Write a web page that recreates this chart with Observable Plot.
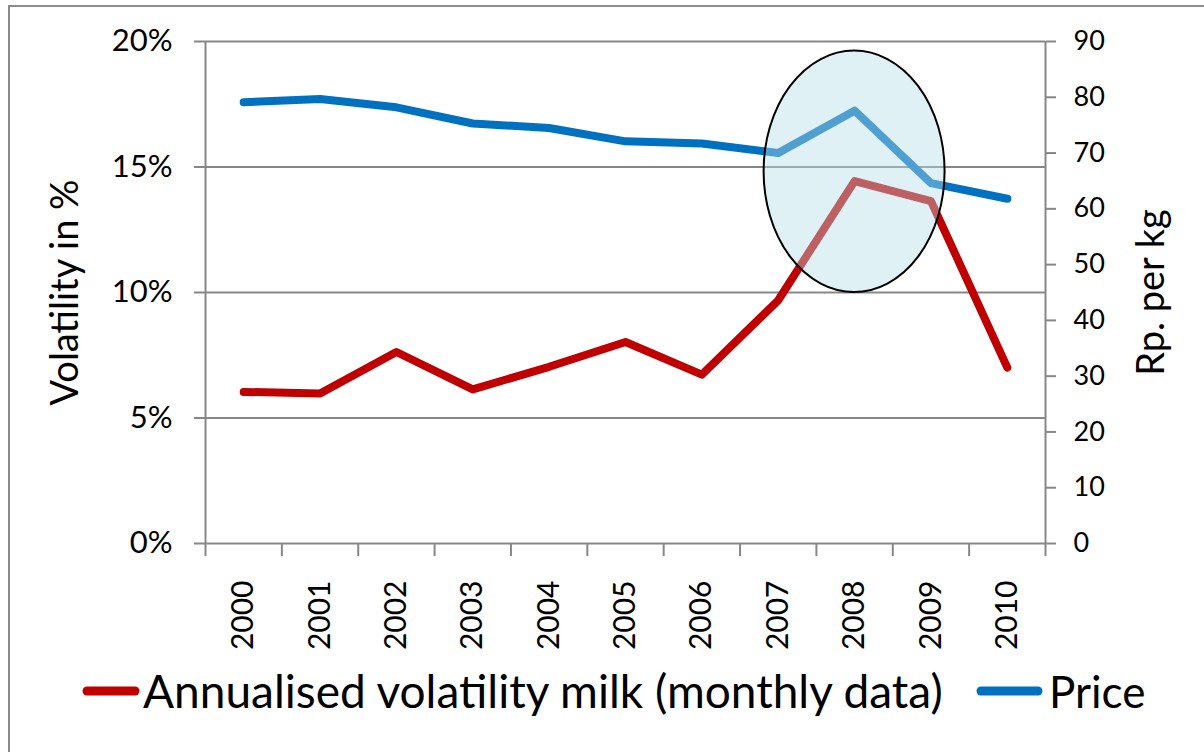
<!DOCTYPE html>
<html><head><meta charset="utf-8">
<script src="https://cdn.jsdelivr.net/npm/d3@7"></script>
<script src="https://cdn.jsdelivr.net/npm/@observablehq/plot@0.6"></script>
<style>
html,body{margin:0;padding:0;background:#fff;overflow:hidden;width:1204px;height:752px;}
#wrap{position:relative;width:1204px;height:752px;overflow:hidden;font-family:Lato,sans-serif;}
#frame{position:absolute;left:8px;top:5px;width:1400px;height:1000px;border:2px solid #8c8c8c;box-sizing:border-box;}
#chart{position:absolute;left:0;top:0;}
#legend{position:absolute;left:0;top:620px;}
</style></head><body>
<div id="wrap"><div id="frame"></div><div id="chart"></div><div id="legend"></div></div>
<script>
// ---- data ----
const years = [2000, 2001, 2002, 2003, 2004, 2005, 2006, 2007, 2008, 2009, 2010];
const volatility = [6.04, 5.98, 7.63, 6.14, 7.04, 8.03, 6.73, 9.69, 14.44, 13.64, 7.01]; // %
const price = [79.1, 79.7, 78.2, 75.3, 74.5, 72.1, 71.7, 70.0, 77.6, 64.6, 61.8];        // Rp. per kg
const leftTicks = [0, 5, 10, 15, 20];
const rightTicks = [0, 10, 20, 30, 40, 50, 60, 70, 80, 90];
const seriesNames = ["Annualised volatility milk (monthly data)", "Price"];
const seriesColors = ["#c00000", "#0070c0"];
const axisTitles = ["Volatility in %", "Rp. per kg"];
const volMax = 20, priceMax = 90;
// highlight ellipse (data units: center year / volatility %, radii in years / %)
const highlight = [{year: 2008, vol: 14.81, rxYears: 1.185, ryVol: 4.81}];

const toVol = p => p * volMax / priceMax;
const rows = years.map((y, i) => ({year: y, vol: volatility[i], priceScaled: toVol(price[i])}));
const boundaries = d3.range(years.length + 1).map(i => years[0] - 0.5 + i);
const FONT = 'Lato, "Open Sans", sans-serif';
const GRAY = "#878787";

function ellipseMark(index, scales) {
  const h = highlight[0];
  const cx = scales.x(h.year), cy = scales.y(h.vol);
  const rx = Math.abs(scales.x(h.year + h.rxYears) - cx);
  const ry = Math.abs(scales.y(h.vol + h.ryVol) - cy);
  const el = document.createElementNS("http://www.w3.org/2000/svg", "ellipse");
  el.setAttribute("cx", cx); el.setAttribute("cy", cy);
  el.setAttribute("rx", rx); el.setAttribute("ry", ry);
  el.setAttribute("fill", "#b7dee8"); el.setAttribute("fill-opacity", 0.43);
  el.setAttribute("stroke", "black"); el.setAttribute("stroke-width", 2);
  return el;
}

const chart = Plot.plot({
  width: 1204, height: 620,
  marginLeft: 205, marginRight: 159, marginTop: 41, marginBottom: 77,
  style: {fontFamily: FONT, color: "black", background: "transparent", overflow: "visible"},
  x: {type: "linear", domain: [boundaries[0], boundaries[boundaries.length - 1]]},
  y: {domain: [0, volMax]},
  marks: [
    Plot.gridY(leftTicks.slice(1), {stroke: GRAY, strokeOpacity: 1, strokeWidth: 2}),
    Plot.ruleY([0], {stroke: GRAY, strokeWidth: 2}),
    Plot.ruleX([boundaries[0], boundaries[boundaries.length - 1]], {stroke: GRAY, strokeWidth: 2}),
    Plot.axisY(leftTicks, {anchor: "left", tickSize: 11, tickPadding: 22, tickFormat: d => d + "%",
      fontSize: 31, stroke: GRAY, strokeWidth: 2, fill: "black", label: null}),
    Plot.axisY(rightTicks.map(toVol), {anchor: "right", tickSize: 10, tickPadding: 18,
      tickFormat: d => String(Math.round(d * priceMax / volMax)),
      fontSize: 27, stroke: GRAY, strokeWidth: 2, fill: "black", label: null}),
    Plot.axisX(boundaries, {anchor: "bottom", tickSize: 13, tickFormat: () => "", stroke: GRAY, strokeWidth: 2, label: null}),
    Plot.axisX(years, {anchor: "bottom", tickSize: 0, tickPadding: 37, tickRotate: -90,
      tickFormat: d => String(d), fontSize: 30, fill: "black", label: null}),
    Plot.line(rows, {x: "year", y: "vol", stroke: seriesColors[0], strokeWidth: 8,
      strokeLinecap: "round", strokeLinejoin: "round"}),
    Plot.line(rows, {x: "year", y: "priceScaled", stroke: seriesColors[1], strokeWidth: 8,
      strokeLinecap: "round", strokeLinejoin: "round"}),
    ellipseMark,
    Plot.text([axisTitles[0]], {text: d => d, frameAnchor: "left", textAnchor: "middle", lineAnchor: "middle",
      dx: -140, dy: 0, rotate: -90, fontSize: 38, fill: "black"}),
    Plot.text([axisTitles[1]], {text: d => d, frameAnchor: "right", textAnchor: "middle", lineAnchor: "middle",
      dx: 106, dy: 0, rotate: -90, fontSize: 38, fill: "black"})
  ]
});
document.getElementById("chart").append(chart);

// ---- legend ----
const leg = d3.select("#legend").append("svg").attr("width", 1204).attr("height", 132)
  .style("font-family", FONT);
const items = [{x1: 83, x2: 139, tx: 143, fs: 46}, {x1: 977, x2: 1042, tx: 1049, fs: 44}];
items.forEach((it, i) => {
  leg.append("line").attr("x1", it.x1 + 4).attr("x2", it.x2 - 4).attr("y1", 71).attr("y2", 71)
    .attr("stroke", seriesColors[i]).attr("stroke-width", 9).attr("stroke-linecap", "round");
  leg.append("text").attr("x", it.tx).attr("y", 88).attr("font-size", it.fs).attr("fill", "black")
    .text(seriesNames[i]);
});
</script>
</body></html>
